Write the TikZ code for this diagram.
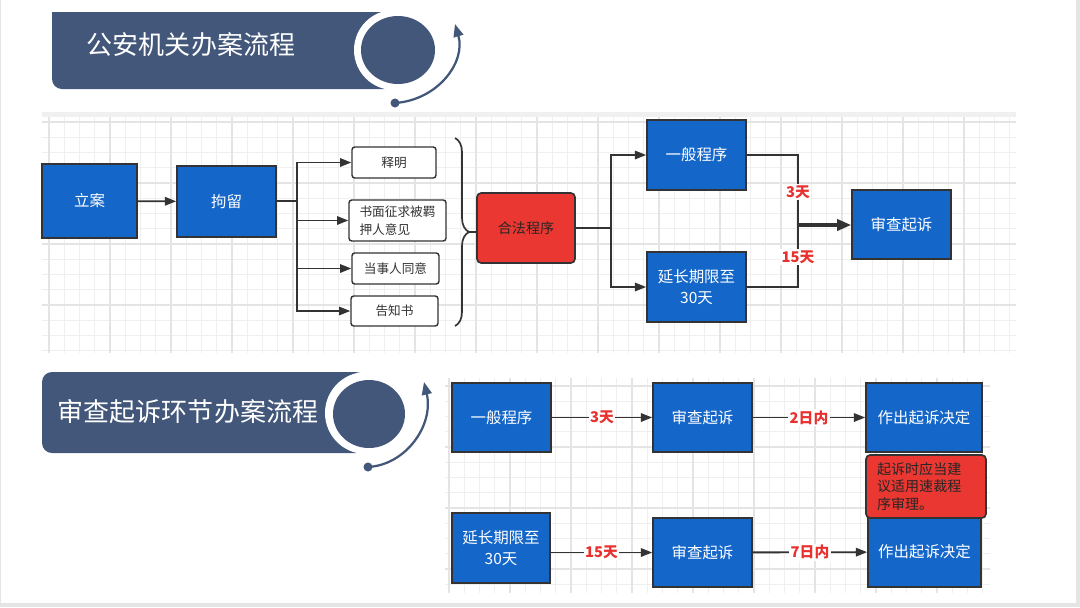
\documentclass[tikz,border=0pt]{standalone}
\usepackage{fontspec}
\newfontfamily\cjk{Noto Sans CJK SC}
\usetikzlibrary{arrows.meta,decorations.pathreplacing}
\definecolor{boxblue}{HTML}{1466C9}
\definecolor{boxred}{HTML}{EB3731}
\definecolor{banner}{HTML}{43577A}
\definecolor{labred}{HTML}{E8302E}
\definecolor{linegray}{HTML}{333333}
\definecolor{gridthin}{HTML}{EFEFEF}
\definecolor{gridthick}{HTML}{E4E4E4}
\newdimen\px \px=0.025cm
\tikzset{
  blk/.style={draw=linegray, line width=1.2pt, fill=boxblue, text=white, align=center,
    inner sep=0pt, font=\cjk\fontsize{11}{15}\selectfont},
  sbox/.style={draw=linegray, line width=1pt, rounded corners=2pt, fill=white, text=black!80,
    inner sep=0pt, font=\cjk\fontsize{9}{13}\selectfont},
  redbox/.style={draw=linegray, line width=1.2pt, rounded corners=3pt, fill=boxred, text=black!85,
    inner sep=0pt, font=\cjk\fontsize{10}{12.4}\selectfont},
  lab/.style={fill=white, text=labred, inner sep=1pt, font=\cjk\bfseries\fontsize{10.5}{12}\selectfont},
  title/.style={text=white, inner sep=0pt, font=\cjk\fontsize{18.5}{20}\selectfont},
  line/.style={draw=linegray, line width=1.3pt},
  conn/.style={draw=linegray, line width=1.3pt, -{Triangle[length=8pt,width=6pt]}},
  bigconn/.style={draw=linegray, line width=2.2pt, -{Triangle[length=10pt,width=8pt]}},
  brc/.style={decorate, decoration={brace, amplitude=14\px}, draw=linegray, line width=1.2pt},
  turn/.style={draw=banner, line width=1.6pt, -{Triangle[length=9pt,width=7pt]}},
  gline/.style={draw=gridthin, line width=0.6pt},
  gbold/.style={draw=gridthick, line width=1pt}
}
\begin{document}
\begin{tikzpicture}[x=0.025cm, y=-0.025cm]
\useasboundingbox (0,0) rectangle (1080,607);
\fill[gray!20] (0,0) rectangle (1080,607);
\fill[white] (1,0) rectangle (1076,603);

% grid backgrounds
\foreach \i in {0,...,63} \draw[gline] (49+15.25*\i,117) -- (49+15.25*\i,353);
\foreach \j in {0,...,15} \draw[gline] (42,122+15.25*\j) -- (1016,122+15.25*\j);
\foreach \i in {0,...,15} \draw[gbold] (49+61*\i,117) -- (49+61*\i,353);
\foreach \j in {0,...,3} \draw[gbold] (42,122+61*\j) -- (1016,122+61*\j);
\fill[gray!12] (42,112) rectangle (1016,117);
\foreach \i in {0,...,35} \draw[gline] (449+15.25*\i,378) -- (449+15.25*\i,593);
\foreach \j in {0,...,13} \draw[gline] (445,386+15.25*\j) -- (990,386+15.25*\j);
\foreach \i in {0,...,8} \draw[gbold] (449+61*\i,378) -- (449+61*\i,593);
\foreach \j in {0,...,3} \draw[gbold] (445,386+61*\j) -- (990,386+61*\j);

% banners
\fill[banner, rounded corners=10\px] (52,12) rectangle (395,89);
\fill[banner] (52,12) rectangle (80,40);
\fill[white] (394,50) circle (40\px);
\fill[banner] (398,50) ellipse [x radius=37\px, y radius=34\px];
\fill[banner] (395,103) circle (4.5\px);
\draw[turn] (395,103) .. controls (438,100) and (466,62) .. (455,24);
\node[title] (t1) at (191,45) {公安机关办案流程};

\fill[banner, rounded corners=10\px] (42,372) rectangle (366,453);
\fill[white] (366,413) circle (41\px);
\fill[banner] (369,414) ellipse [x radius=36\px, y radius=34\px];
\fill[banner] (368,467) circle (4.5\px);
\draw[turn] (368,467) .. controls (406,465) and (434,425) .. (424,382);
\node[title] (t2) at (188,412) {审查起诉环节办案流程};

% first flow
\node[blk, minimum width=95\px, minimum height=74\px] (la) at (89.5,201) {立案};
\node[blk, minimum width=99\px, minimum height=71\px] (jl) at (226.5,201.5) {拘留};
\node[sbox, minimum width=84\px, minimum height=31\px] (sm) at (394,162.5) {释明};
\node[sbox, minimum width=97\px, minimum height=41\px, align=left] (sq) at (397.5,220.5) {书面征求被羁\\押人意见};
\node[sbox, minimum width=87\px, minimum height=31\px] (dsr) at (395.5,268.5) {当事人同意};
\node[sbox, minimum width=87\px, minimum height=30\px] (gzs) at (394.5,311) {告知书};
\node[redbox, minimum width=98\px, minimum height=70\px] (hf) at (526,228) {合法程序};
\node[blk, minimum width=99\px, minimum height=70\px] (yb1) at (696.5,155) {一般程序};
\node[blk, minimum width=99\px, minimum height=70\px] (yc1) at (696.5,287) {延长期限至\\30天};
\node[blk, minimum width=99\px, minimum height=69\px] (sc1) at (901.5,224.5) {审查起诉};

\draw[conn] (la) -- (jl);
\coordinate (br) at (297,201);
\draw[line] (jl.east |- br) -- (br);
\draw[conn] (br) |- (sm);
\draw[conn] (br) |- (sq);
\draw[conn] (br) |- (dsr);
\draw[conn] (br) |- (gzs);
\draw[brc] (455,138) -- (455,326);
\coordinate (bt) at (469,232);
\draw[line] (bt) -- (hf.west |- bt);
\coordinate (hb) at (611,228);
\draw[line] (hf.east) -- (hb);
\draw[conn] (hb) |- (yb1);
\draw[conn] (hb) |- (yc1);
\coordinate (jr) at (798,225);
\draw[line] (yb1.east) -| (jr);
\draw[line] (yc1.east) -| (jr);
\node[lab] (d3) at (798,192) {3天};
\node[lab] (d15) at (798,257) {15天};
\draw[bigconn] (jr) -- (sc1.west |- jr);

% second flow
\node[blk, minimum width=99\px, minimum height=69\px] (yb2) at (501.5,417.5) {一般程序};
\node[blk, minimum width=99\px, minimum height=69\px] (sc2) at (702.5,417.5) {审查起诉};
\node[blk, minimum width=116\px, minimum height=69\px] (zc2) at (924,417.5) {作出起诉决定};
\node[blk, minimum width=98\px, minimum height=70\px] (yc2) at (501,548) {延长期限至\\30天};
\node[blk, minimum width=99\px, minimum height=69\px] (sc3) at (702.5,552.5) {审查起诉};
\node[blk, minimum width=113\px, minimum height=70\px] (zc3) at (924.5,552) {作出起诉决定};
\node[redbox, minimum width=120\px, minimum height=63\px, text width=98\px, align=left] (note) at (926,486.5)
  {起诉时应当建\\议适用速裁程\\序审理。};

\draw[conn] (yb2) -- node[lab] {3天} (sc2);
\draw[conn] (sc2) -- node[lab] {2日内} (zc2);
\draw[conn] (yc2.east |- sc3) -- node[lab] {15天} (sc3);
\draw[conn] (sc3) -- node[lab] {7日内} (zc3);
\end{tikzpicture}
\end{document}
